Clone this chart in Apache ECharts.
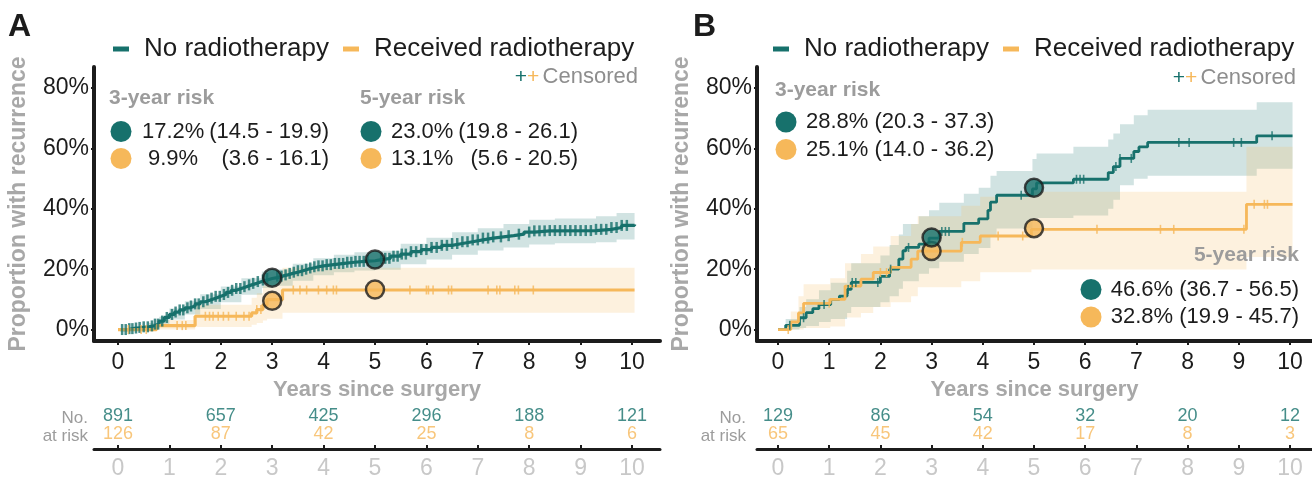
<!DOCTYPE html>
<html>
<head>
<meta charset="utf-8">
<script src="https://cdn.jsdelivr.net/npm/echarts@6/dist/echarts.min.js"></script>
<style>
html, body { margin: 0; padding: 0; background: #fff; }
#chart { width: 1312px; height: 480px; }
</style>
</head>
<body>
<div id="chart"></div>
<script>
// ---- data ----
var yearTicks = [0, 1, 2, 3, 4, 5, 6, 7, 8, 9, 10];
var pctTicks = [0, 20, 40, 60, 80];
var riskYears = [0, 2, 4, 6, 8, 10];
var seriesNames = ['No radiotherapy', 'Received radiotherapy'];

// panel A: [years, % with recurrence]
var curveA_noRt = [[0.05, 0], [0.2, 0.3], [0.3, 0.5], [0.4, 0.7], [0.5, 0.9], [0.6, 1.2], [0.7, 1.8], [0.8, 2.8], [0.9, 4.0],
  [1.0, 5.0], [1.1, 5.8], [1.2, 6.5], [1.3, 7.2], [1.4, 7.8], [1.5, 8.5], [1.6, 9.2], [1.7, 9.8], [1.8, 10.4], [1.9, 11.0],
  [2.0, 11.6], [2.1, 12.3], [2.2, 13.0], [2.3, 13.6], [2.4, 14.2], [2.5, 14.8], [2.6, 15.3], [2.7, 15.9], [2.8, 16.4], [2.9, 16.9],
  [3.0, 17.2], [3.1, 17.7], [3.2, 18.1], [3.3, 18.6], [3.4, 19.0], [3.5, 19.5], [3.6, 20.0], [3.7, 20.4], [3.8, 20.8], [3.9, 21.1],
  [4.0, 21.5], [4.2, 21.9], [4.4, 22.3], [4.6, 22.6], [4.8, 22.8], [5.0, 23.1], [5.1, 23.6], [5.3, 24.3], [5.5, 25.0], [5.7, 25.8],
  [5.9, 26.5], [6.1, 27.2], [6.3, 27.9], [6.5, 28.5], [6.7, 29.1], [6.9, 29.7], [7.1, 30.3], [7.3, 30.7], [7.5, 31.1], [7.7, 31.6],
  [7.9, 32.3], [8.1, 32.7], [8.4, 32.8], [9.3, 33.2], [9.6, 33.8], [9.8, 34.5], [10.05, 34.8]];
var curveA_rt = [[0, 0], [0.75, 1.3], [1.5, 4.4], [2.6, 5.5], [2.7, 6.6], [2.82, 8.2], [2.9, 9.9], [3.2, 13.1], [10.05, 13.1]];

// confidence bands: [years, lower, upper]
var bandA_noRt = [[0.05, 0, 0], [0.3, 0, 1.2], [0.6, 0.4, 2.2], [0.8, 1.5, 4.2], [1.0, 3.3, 7.0], [1.3, 5.0, 9.4], [1.6, 6.8, 11.7],
  [2.0, 9.0, 14.3], [2.4, 11.5, 17.0], [2.8, 13.8, 19.2], [3.0, 14.5, 19.9], [3.4, 16.2, 21.8], [3.8, 18.0, 23.6], [4.2, 19.0, 24.8],
  [4.6, 19.6, 25.6], [5.0, 19.8, 26.1], [5.5, 21.6, 28.4], [6.0, 23.2, 30.4], [6.5, 24.8, 32.2], [7.0, 26.2, 33.6], [7.5, 27.2, 35.0],
  [8.0, 28.2, 36.4], [8.5, 28.6, 36.8], [9.3, 28.9, 37.5], [9.7, 29.8, 38.6], [10.05, 30.3, 39.3]];
var bandA_rt = [[0, 0, 0], [0.75, 0, 3.2], [1.5, 0.8, 8.2], [2.6, 1.6, 10.5], [2.7, 2.2, 12.0], [2.82, 3.0, 14.5], [2.9, 3.6, 16.1],
  [3.2, 5.6, 20.5], [10.05, 5.6, 20.5]];

var censorA_noRt = [0.08, 0.15, 0.22, 0.28, 0.35, 0.42, 0.5, 0.58, 0.66, 0.72, 0.78, 0.86, 0.95, 1.05, 1.12, 1.2, 1.27, 1.35, 1.42,
  1.5, 1.57, 1.66, 1.74, 1.82, 1.9, 1.98, 2.06, 2.14, 2.22, 2.3, 2.38, 2.46, 2.55, 2.63, 2.72, 2.82, 2.9, 3.1, 3.18, 3.26, 3.34,
  3.42, 3.5, 3.58, 3.66, 3.74, 3.82, 3.9, 3.98, 4.06, 4.14, 4.22, 4.3, 4.38, 4.46, 4.54, 4.62, 4.7, 4.78, 4.86, 5.12, 5.2, 5.28,
  5.36, 5.44, 5.52, 5.6, 5.7, 5.8, 5.9, 6.0, 6.1, 6.2, 6.3, 6.4, 6.5, 6.6, 6.7, 6.8, 6.9, 7.0, 7.1, 7.2, 7.3, 7.45, 7.6, 7.8, 8.0,
  8.1, 8.2, 8.3, 8.4, 8.5, 8.6, 8.7, 8.8, 8.9, 9.0, 9.1, 9.2, 9.3, 9.4, 9.5, 9.6, 9.7, 9.8, 9.9];
var censorA_rt = [0.2, 0.45, 0.55, 1.15, 1.25, 1.32, 1.7, 1.78, 1.85, 1.95, 2.05, 2.15, 2.3, 2.45, 2.55, 2.7, 2.78, 3.41, 3.54,
  3.67, 3.9, 4.06, 4.19, 4.25, 5.68, 6.0, 6.04, 6.13, 6.43, 6.49, 7.2, 7.37, 7.43, 7.72, 7.79, 8.08];

var dotsA_noRt = [[3, 17.2], [5, 23.2]];
var dotsA_rt = [[3, 9.5], [5, 13.3]];
var atRiskA_noRt = [891, 657, 425, 296, 188, 121];
var atRiskA_rt = [126, 87, 42, 25, 8, 6];

// panel B
var curveB_noRt = [[0, 0], [0.15, 1.4], [0.42, 3.9], [0.55, 5.6], [0.68, 6.9], [0.8, 8.3], [1.03, 10.0], [1.2, 11.1], [1.35, 13.3],
  [1.43, 15.6], [2.0, 17.6], [2.18, 20.0], [2.36, 23.3], [2.44, 26.1], [2.5, 27.2], [2.75, 28.3], [2.95, 30.3], [3.15, 32.5],
  [3.63, 35.2], [3.92, 36.7], [4.1, 39.5], [4.15, 42.2], [4.27, 44.5], [4.97, 46.6], [5.05, 48.6], [5.77, 49.8], [6.45, 52.0],
  [6.55, 54.0], [6.68, 56.7], [6.95, 59.0], [7.05, 60.5], [7.22, 62.0], [9.35, 64.2], [10.05, 64.2]];
var curveB_rt = [[0, 0], [0.25, 2.5], [0.4, 5.5], [0.5, 8.7], [1.02, 10.0], [1.31, 14.4], [1.62, 16.7], [1.86, 18.9], [2.2, 20.6],
  [2.6, 23.3], [2.73, 26.0], [3.58, 28.9], [3.95, 31.0], [4.95, 33.2], [9.15, 41.5], [10.05, 41.5]];

var bandB_noRt = [[0, 0, 0], [0.15, 0, 3.5], [0.42, 0.5, 7.5], [0.55, 1.2, 10.0], [0.8, 2.5, 13.0], [1.03, 3.5, 15.5],
  [1.35, 5.5, 19.5], [1.43, 7.5, 22.0], [2.0, 9.0, 24.5], [2.18, 11.0, 28.0], [2.36, 13.5, 31.5], [2.44, 16.0, 35.0],
  [2.75, 18.5, 37.5], [2.95, 20.3, 39.5], [3.15, 22.5, 42.0], [3.63, 25.0, 45.0], [3.92, 27.0, 47.0], [4.15, 31.0, 51.0],
  [4.27, 33.5, 52.5], [4.97, 36.7, 56.5], [5.05, 37.0, 58.3], [5.77, 37.8, 60.6], [6.45, 40.0, 63.0], [6.55, 43.0, 65.0],
  [6.68, 47.8, 68.0], [6.95, 50.0, 71.0], [7.22, 51.0, 72.8], [9.35, 53.3, 75.3], [10.05, 53.3, 75.3]];
var bandB_rt = [[0, 0, 0], [0.25, 0, 6.0], [0.4, 0, 11.0], [0.5, 0.5, 15.0], [1.02, 1.0, 17.0], [1.31, 4.0, 22.0],
  [1.62, 5.5, 25.0], [1.86, 7.5, 27.5], [2.2, 9.0, 31.0], [2.6, 11.0, 35.0], [2.73, 14.0, 37.5], [3.58, 16.0, 41.0],
  [3.95, 19.0, 44.0], [4.95, 19.9, 45.7], [9.15, 24.0, 60.6], [10.05, 24.0, 60.6]];

var censorB_noRt = [0.23, 0.5, 0.9, 1.37, 1.45, 1.52, 1.95, 2.2, 2.55, 3.2, 3.27, 3.34, 4.75, 5.83, 5.9, 5.97, 6.6, 6.68, 6.9,
  7.83, 8.03, 8.9, 9.05, 9.65];
var censorB_rt = [0.2, 1.0, 2.0, 2.12, 3.6, 4.3, 4.78, 6.23, 7.47, 7.73, 9.1, 9.3, 9.5, 9.56];

var dotsB_noRt = [[3, 30.5], [5, 47.0]];
var dotsB_rt = [[3, 26.0], [5, 33.6]];
var atRiskB_noRt = [129, 86, 54, 32, 20, 12];
var atRiskB_rt = [65, 45, 42, 17, 8, 3];

// ---- styling ----
var TEAL = '#17716c';
var YEL = '#f6b85a';
var INK = '#1c1c1c';
var GREY = '#9c9c9c';
var FONT = 'Liberation Sans';

var chart = echarts.init(document.getElementById('chart'));

function stepAt(curve, t) {
    var v = curve[0][1];
    for (var i = 0; i < curve.length; i++) {
        if (curve[i][0] <= t) v = curve[i][1];
    }
    return v;
}

function bandSeries(band, color, axis) {
    return {
        type: 'custom', xAxisIndex: axis, yAxisIndex: axis, silent: true, z: 1,
        data: [[0, 0]],
        renderItem: function (params, api) {
            var up = [], lo = [];
            for (var i = 0; i < band.length - 1; i++) {
                up.push(api.coord([band[i][0], band[i][2]]), api.coord([band[i + 1][0], band[i][2]]));
                lo.push(api.coord([band[i][0], band[i][1]]), api.coord([band[i + 1][0], band[i][1]]));
            }
            return { type: 'polygon', shape: { points: up.concat(lo.reverse()) }, style: { fill: color } };
        }
    };
}

function panel(axis, curves, bands, censors, dots, atRisk, lineW) {
    var colors = [TEAL, YEL];
    var fills = ['rgba(23,113,108,0.2)', 'rgba(246,184,90,0.2)'];
    var out = [];
    [0, 1].forEach(function (k) {
        out.push(bandSeries(bands[k], fills[k], axis));
    });
    [0, 1].forEach(function (k) {
        out.push({
            name: seriesNames[k], type: 'line', step: 'end', xAxisIndex: axis, yAxisIndex: axis,
            showSymbol: false, z: 2, color: colors[k],
            lineStyle: { color: colors[k], width: lineW },
            data: curves[k]
        });
        out.push({
            type: 'scatter', xAxisIndex: axis, yAxisIndex: axis, z: 3, silent: true,
            symbol: 'rect', symbolSize: k === 0 && axis === 0 ? [2.5, 11] : [1.6, 9],
            itemStyle: { color: colors[k] },
            data: censors[k].map(function (t) { return [t, stepAt(curves[k], t)]; })
        });
    });
    [1, 0].forEach(function (k) {
        out.push({
            type: 'scatter', xAxisIndex: axis, yAxisIndex: axis, z: 5, silent: true,
            symbolSize: 18,
            itemStyle: { color: colors[k], borderColor: INK, borderWidth: 2.5 },
            data: dots[k]
        });
    });
    // numbers at risk, row 0 = teal, row 1 = yellow
    var rowY = [0.676, 0.304];
    [0, 1].forEach(function (k) {
        out.push({
            type: 'scatter', xAxisIndex: axis + 1, yAxisIndex: axis + 1, silent: true,
            symbolSize: 1, itemStyle: { color: 'rgba(0,0,0,0)' },
            label: { show: true, position: 'inside', color: colors[k], fontSize: 18, fontFamily: FONT,
                formatter: function (p) { return p.value[2]; } },
            data: riskYears.map(function (t, i) { return [t, rowY[k], atRisk[k][i]]; })
        });
    });
    return out;
}

function mainX(grid, min, max) {
    return {
        gridIndex: grid, type: 'value', min: min, max: max,
        axisLine: { onZero: false, lineStyle: { color: INK, width: 4 } },
        axisTick: { customValues: yearTicks, length: 4, lineStyle: { color: INK, width: 2 } },
        axisLabel: { customValues: yearTicks, fontSize: 23, color: INK, margin: 10, fontFamily: FONT },
        splitLine: { show: false },
        name: 'Years since surgery', nameLocation: 'middle', nameGap: 36,
        nameTextStyle: { fontSize: 22, fontWeight: 'bold', color: '#a8a8a8', fontFamily: FONT }
    };
}
function riskX(grid, min, max) {
    return {
        gridIndex: grid, type: 'value', min: min, max: max,
        axisLine: { onZero: false, lineStyle: { color: INK, width: 3 } },
        axisTick: { inside: true, customValues: yearTicks, length: 4, lineStyle: { color: INK, width: 2 } },
        axisLabel: { customValues: yearTicks, fontSize: 23, color: '#c8c8c8', margin: 8, fontFamily: FONT },
        splitLine: { show: false }
    };
}
function mainY(grid) {
    return {
        gridIndex: grid, type: 'value', min: -3.8, max: 87,
        axisLine: { show: true, onZero: false, lineStyle: { color: INK, width: 4 } },
        axisTick: { show: true, customValues: pctTicks, length: 3, lineStyle: { color: INK, width: 2 } },
        axisLabel: { customValues: pctTicks, formatter: '{value}%', fontSize: 23, color: INK, margin: 5, fontFamily: FONT },
        splitLine: { show: false },
        name: 'Proportion with recurrence', nameLocation: 'middle', nameGap: 64,
        nameTextStyle: { fontSize: 23, fontWeight: 'bold', color: '#a8a8a8', fontFamily: FONT }
    };
}

function txt(x, y, text, size, color, opts) {
    var s = { text: text, fontSize: size, fill: color, fontFamily: FONT, verticalAlign: 'middle', align: 'left' };
    for (var k in (opts || {})) s[k] = opts[k];
    return { type: 'text', x: x, y: y, style: s, z: 10 };
}
function dot(x, y, color) {
    return { type: 'circle', shape: { cx: x, cy: y, r: 10.5 }, style: { fill: color }, z: 10 };
}
function censoredKey(xRight, y) {
    return {
        type: 'text', x: xRight, y: y, z: 10,
        style: {
            text: '{t|+}{y|+} {g|Censored}', align: 'right', verticalAlign: 'middle',
            rich: {
                t: { fill: TEAL, fontSize: 21, fontFamily: FONT },
                y: { fill: YEL, fontSize: 21, fontFamily: FONT },
                g: { fill: '#8e8e8e', fontSize: 22, fontFamily: FONT }
            }
        }
    };
}

var option = {
    animation: false,
    textStyle: { fontFamily: FONT },
    legend: [
        { left: 108, top: 31 },
        { left: 768, top: 31 }
    ].map(function (l) {
        return {
            left: l.left, top: l.top, data: seriesNames, icon: 'rect', itemWidth: 16, itemHeight: 5, itemGap: 14,
            selectedMode: false, textStyle: { fontSize: 26, color: INK, fontFamily: FONT, padding: [0, 0, 0, 10] }
        };
    }),
    grid: [
        { left: 94, top: 67, width: 566, height: 274 },
        { left: 94, top: 400, width: 566, height: 51 },
        { left: 757, top: 67, width: 555, height: 274 },
        { left: 757, top: 400, width: 555, height: 51 }
    ],
    xAxis: [mainX(0, -0.467, 10.545), riskX(1, -0.467, 10.545), mainX(2, -0.41, 10.43), riskX(3, -0.41, 10.43)],
    yAxis: [mainY(0), { gridIndex: 1, min: 0, max: 1, show: false }, mainY(2), { gridIndex: 3, min: 0, max: 1, show: false }],
    series: [].concat(
        panel(0, [curveA_noRt, curveA_rt], [bandA_noRt, bandA_rt], [censorA_noRt, censorA_rt], [dotsA_noRt, dotsA_rt], [atRiskA_noRt, atRiskA_rt], 3.2),
        panel(2, [curveB_noRt, curveB_rt], [bandB_noRt, bandB_rt], [censorB_noRt, censorB_rt], [dotsB_noRt, dotsB_rt], [atRiskB_noRt, atRiskB_rt], 2.8)
    ),
    graphic: [
        txt(8, 27, 'A', 32, INK, { fontWeight: 'bold' }),
        txt(693, 27, 'B', 32, INK, { fontWeight: 'bold' }),
        censoredKey(638, 77),
        censoredKey(1296, 78),

        // panel A risk notes
        txt(109, 98, '3-year risk', 21, GREY, { fontWeight: 'bold' }),
        dot(121, 131.5, TEAL), dot(121, 158.5, YEL),
        txt(142, 131.5, '17.2%', 22, INK), txt(329, 131.5, '(14.5 - 19.9)', 22, INK, { align: 'right' }),
        txt(148, 158.5, '9.9%', 22, INK), txt(329, 158.5, '(3.6 - 16.1)', 22, INK, { align: 'right' }),
        txt(360, 98, '5-year risk', 21, GREY, { fontWeight: 'bold' }),
        dot(371, 131.5, TEAL), dot(371, 158.5, YEL),
        txt(391, 131.5, '23.0%', 22, INK), txt(578, 131.5, '(19.8 - 26.1)', 22, INK, { align: 'right' }),
        txt(391, 158.5, '13.1%', 22, INK), txt(578, 158.5, '(5.6 - 20.5)', 22, INK, { align: 'right' }),

        // panel B risk notes
        txt(775, 90, '3-year risk', 21, GREY, { fontWeight: 'bold' }),
        dot(786, 122, TEAL), dot(786, 149.5, YEL),
        txt(806, 122, '28.8% (20.3 - 37.3)', 22, INK),
        txt(806, 149.5, '25.1% (14.0 - 36.2)', 22, INK),
        txt(1299, 255, '5-year risk', 21, GREY, { fontWeight: 'bold', align: 'right' }),
        dot(1091, 289.5, TEAL), dot(1091, 317, YEL),
        txt(1299, 289.5, '46.6% (36.7 - 56.5)', 22, INK, { align: 'right' }),
        txt(1299, 317, '32.8% (19.9 - 45.7)', 22, INK, { align: 'right' }),

        // risk table captions
        txt(88, 418, 'No.', 17, GREY, { align: 'right' }),
        txt(88, 436, 'at risk', 17, GREY, { align: 'right' }),
        txt(746, 418, 'No.', 17, GREY, { align: 'right' }),
        txt(746, 436, 'at risk', 17, GREY, { align: 'right' })
    ]
};

chart.setOption(option);
</script>
</body>
</html>
